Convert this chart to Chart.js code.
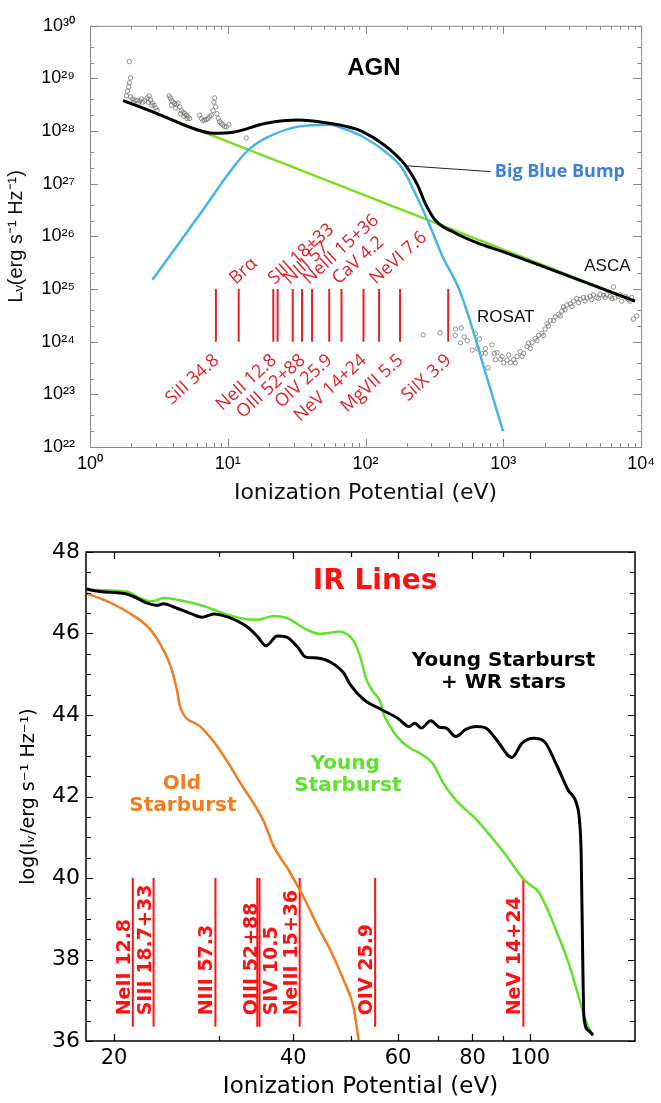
<!DOCTYPE html>
<html>
<head>
<meta charset="utf-8">
<script src="https://cdn.jsdelivr.net/npm/chart.js@4.4.1/dist/chart.umd.min.js"></script>
<style>
  html, body { margin: 0; padding: 0; background: #fff; }
  #page { position: relative; width: 661px; height: 1103px; }
  #agn { position: absolute; left: 0; top: 0; }
  #ir { position: absolute; left: 0; top: 515px; }
</style>
</head>
<body>
<div id="page">
  <canvas id="agn" width="661" height="515"></canvas>
  <canvas id="ir" width="661" height="588"></canvas>
</div>
<script>
// ---------- top panel: AGN spectrum ----------
const agnXTicks = [1, 10, 100, 1000, 10000];
const agnYTicks = [1e22, 1e23, 1e24, 1e25, 1e26, 1e27, 1e28, 1e29, 1e30];

// total model (black)
const totalE = [1.74, 3.0, 5.9, 7.8, 10.9, 19, 33, 54.5, 72, 95, 140, 195, 238, 273, 322, 450, 660, 977, 9030];
const totalL = [3.8e28, 2.2e28, 1.07e28, 9.1e27, 9.5e27, 1.41e28, 1.62e28, 1.41e28, 1.23e28, 9.8e27, 5.2e27, 2.24e27, 9.5e26, 4.1e26, 2.0e26, 1.15e26, 7.4e25, 5.2e25, 5.9e24];
// big blue bump (blue)
const bumpE = [2.84, 3.59, 6.25, 10.8, 14.0, 19.0, 33.1, 54.5, 72, 95, 140, 185, 231, 289, 360, 475, 594, 741, 995];
const bumpL = [1.5e25, 3.5e25, 2.6e26, 1.95e27, 4.3e27, 7.4e27, 1.23e28, 1.32e28, 1.07e28, 7.9e27, 4.0e27, 1.95e27, 6.3e26, 1.74e26, 4.3e25, 1.02e25, 1.86e24, 2.6e23, 2.0e22];
// power law (green)
const powerE = [1.74, 9030];
const powerL = [3.8e28, 5.9e24];

// observed points, optical/UV (log10 L)
const opticalE = [1.93, 1.97, 1.93, 1.91, 1.87, 1.84, 1.97, 2.04, 2.12, 2.20, 2.30, 2.41, 2.50, 2.60, 2.69, 2.75, 2.84, 2.92, 3.00, 3.07,
  2.06, 2.24, 2.65, 2.80, 2.36,
  3.75, 3.83, 3.92, 4.01, 4.12, 4.24, 4.36, 4.48, 4.61, 4.74, 4.87, 5.01, 5.15, 5.29,
  3.90, 4.19, 4.55, 4.80, 5.06,
  6.25, 6.43, 6.61, 6.80, 6.99, 7.18, 7.39, 7.59, 7.81, 7.94, 8.03, 8.16, 8.34, 8.53, 8.72, 8.97, 9.22, 9.48, 9.75, 10.19, 13.6];
const opticalLogL = [29.32, 29.01, 28.92, 28.84, 28.76, 28.67, 28.65, 28.61, 28.59, 28.58, 28.57, 28.55, 28.58, 28.63, 28.67, 28.59, 28.53, 28.49, 28.44, 28.39,
  28.55, 28.53, 28.55, 28.49, 28.61,
  28.67, 28.63, 28.58, 28.55, 28.52, 28.50, 28.53, 28.46, 28.39, 28.36, 28.33, 28.30, 28.27, 28.24,
  28.49, 28.44, 28.33, 28.28, 28.24,
  28.30, 28.24, 28.20, 28.21, 28.22, 28.24, 28.27, 28.30, 28.39, 28.55, 28.63, 28.46, 28.33, 28.24, 28.18, 28.15, 28.12, 28.09, 28.08, 28.13, 27.87];

// observed points, X-ray (ROSAT / ASCA)
const xrayE = [262, 347, 450, 495, 447, 520, 489, 546, 628, 671, 594, 650, 695, 741, 774, 828, 860, 900, 952, 1006,
  1094, 1125, 1189, 1257, 1329, 1405, 1485, 1527, 1614, 1706, 1803, 1906, 2015, 2072, 2191, 2381, 2517, 2661, 2736, 2892,
  3058, 3232, 3417, 3612, 3819, 4037, 4267, 4511, 4769, 5041, 5329, 5634, 5956, 6296, 6473, 6843, 7233, 7647, 8083, 8545,
  8786, 9290,
  1222, 1366, 1570, 1754, 1960, 2131, 2316, 2589, 2813, 3144, 3513, 3926, 4387, 4903, 5479, 6123, 7036, 7862, 8310,
  876, 979, 1064, 741];
const xrayLogL = [24.13, 24.17, 24.24, 24.26, 24.12, 24.09, 23.98, 24.02, 24.15, 24.05, 23.84, 23.87, 23.78, 23.87, 23.505, 23.94, 23.78, 23.79, 23.67, 23.60,
  23.75, 23.60, 23.66, 23.72, 23.81, 23.78, 23.91, 23.97, 23.98, 24.06, 24.12, 24.16, 24.24, 24.34, 24.40, 24.47, 24.52, 24.58, 24.66, 24.70,
  24.72, 24.77, 24.82, 24.80, 24.84, 24.83, 24.86, 24.89, 24.84, 24.90, 24.88, 24.89, 24.86, 25.04, 24.83, 24.86, 24.77, 24.86, 24.80, 24.84,
  24.43, 24.49,
  23.60, 23.72, 23.87, 24.02, 24.12, 24.30, 24.40, 24.49, 24.61, 24.67, 24.74, 24.77, 24.80, 24.82, 24.84, 24.82, 24.89, 24.83, 24.77,
  23.66, 23.72, 23.65, 23.78];

// emission line ionization potentials (eV) and their labels
const agnLineE = [8.2, 12.0, 21.4, 23.0, 29.6, 34.6, 40.9, 54.5, 66.9, 96.6, 125.4, 178, 398];
const agnLineLabels = ['SiII 34.8', 'Brα', 'NeII 12.8', 'SIII 18+33', 'NIII 57', 'OIII 52+88', 'NeIII 15+36',
  'OIV 25.9', 'CaV 4.2', 'NeV 14+24', 'NeVI 7.6', 'MgVII 5.5', 'SiIX 3.9'];
const agnLineSide = ['down', 'up', 'down', 'up', 'up', 'down', 'up', 'down', 'up', 'down', 'up', 'down', 'down'];
const agnLineRange = [1e24, 1e25];

// ---------- bottom panel: IR lines ----------
const irXTicks = [20, 40, 60, 80, 100];
const irXMinor = [30, 50, 70, 90];
const irYTicks = [36, 38, 40, 42, 44, 46, 48];

const wrE = [17.94, 18.95, 21.0, 22.1, 22.6, 23.6, 24.2, 25.5, 26.8, 28.1, 29.4, 31.1, 33.4, 34.8, 36.0, 37.6, 39.0, 40.6, 42.0, 43.9,
  46.3, 48.6, 49.9, 52.6, 56.3, 59.9, 62.6, 64.0, 65.6, 68.1, 70.4, 72.2, 75.0, 78.0, 81.0, 84.3, 87.8, 93.2, 96.9, 101.4,
  105.6, 111.1, 115.8, 119.6, 121.0, 121.8, 122.5, 123.1, 125.3, 127.5];
const wrL = [47.09, 47.03, 46.97, 46.83, 46.76, 46.69, 46.73, 46.62, 46.50, 46.40, 46.48, 46.40, 46.17, 45.93, 45.70, 45.94, 45.91, 45.68, 45.42, 45.40,
  45.29, 45.03, 44.74, 44.37, 44.13, 43.92, 43.72, 43.80, 43.68, 43.86, 43.70, 43.68, 43.47, 43.65, 43.72, 43.68, 43.39, 42.96, 43.31, 43.43,
  43.35, 42.73, 42.16, 41.83, 41.42, 40.6, 38.15, 36.59, 36.26, 36.14];

const youngE = [17.94, 19.4, 21.0, 22.1, 23.2, 24.2, 25.5, 27.1, 28.6, 31.1, 33.4, 34.8, 37.1, 39.0, 42.2, 44.3, 46.2, 47.6, 49.4, 50.5,
  51.8, 53.0, 54.3, 56.0, 56.8, 57.5, 59.5, 62.6, 65.5, 68.5, 71.5, 75.0, 81.0, 90.6, 97.6, 103.7, 111.1, 116.6, 122.5, 124.5, 127.5];
const youngL = [47.07, 47.06, 47.03, 46.87, 46.79, 46.87, 46.83, 46.75, 46.65, 46.46, 46.35, 46.34, 46.43, 46.38, 46.09, 45.99, 46.02, 46.05, 45.97, 45.82,
  45.44, 44.9, 44.6, 44.33, 44.0, 43.85, 43.5, 43.2, 43.05, 42.82, 42.32, 41.91, 41.45, 40.6, 39.96, 39.62, 38.64, 37.82, 36.75, 36.43, 36.14];

const oldE = [17.94, 19.4, 21.0, 22.9, 24.2, 24.9, 25.5, 25.8, 27.9, 30.1, 32.6, 35.6, 37.1, 39.3, 41.6, 44.3, 46.2, 48.6, 50.5, 51.5];
const oldL = [46.99, 46.80, 46.54, 46.13, 45.60, 45.19, 44.62, 44.21, 43.72, 43.14, 42.33, 41.42, 40.77, 40.19, 39.54, 38.72, 38.22, 37.49, 36.83, 36.02];

const irLineE = [21.5, 23.3, 29.6, 34.8, 35.1, 41.0, 54.9, 97.4];
const irLineLabels = ['NeII 12.8', 'SIII 18.7+33', 'NIII 57.3', 'SIV 10.5', 'OIII 52+88', 'NeIII 15+36', 'OIV 25.9', 'NeV 14+24'];
const irLineRange = [36.35, 40];
const irLabelBase = 36.63;

// ---------- helpers ----------
const SUP = '⁰¹²³⁴⁵⁶⁷⁸⁹';
const sup = n => String(n).split('').map(c => SUP[+c]).join('');
const pts = (xs, ys) => xs.map((v, i) => ({x: v, y: ys[i]}));
const ptsLog = (xs, ys) => xs.map((v, i) => ({x: v, y: Math.pow(10, ys[i])}));

function inwardTicks(ctx, a, xs, ys, xMaj, xMin, yMaj, yMin, majLen, minLen) {
  ctx.beginPath();
  const tx = (v, len) => {
    const p = Math.round(xs.getPixelForValue(v)) + 0.5;
    ctx.moveTo(p, a.bottom); ctx.lineTo(p, a.bottom - len);
    ctx.moveTo(p, a.top); ctx.lineTo(p, a.top + len);
  };
  const ty = (v, len) => {
    const p = Math.round(ys.getPixelForValue(v)) + 0.5;
    ctx.moveTo(a.left, p); ctx.lineTo(a.left + len, p);
    ctx.moveTo(a.right, p); ctx.lineTo(a.right - len, p);
  };
  xMaj.forEach(v => tx(v, majLen));
  xMin.forEach(v => tx(v, minLen));
  yMaj.forEach(v => ty(v, majLen));
  yMin.forEach(v => ty(v, minLen));
  ctx.stroke();
}

function label(ctx, text, x, y, font, color, align) {
  ctx.font = font;
  ctx.fillStyle = color;
  ctx.textAlign = align || 'center';
  ctx.textBaseline = 'middle';
  ctx.fillText(text, x, y);
}

// ---------- AGN chart ----------
const agnRed = '#e3202a';
const agnXMinor = [], agnYMinor = [];
for (let d = 0; d < 4; d++) for (let m = 2; m < 10; m++) agnXMinor.push(m * Math.pow(10, d));
for (let d = 22; d < 30; d++) [2, 4].forEach(m => agnYMinor.push(m * Math.pow(10, d)));

const agnDecor = {
  id: 'agnDecor',
  afterDatasetsDraw(chart) {
    const {ctx, chartArea: a, scales: {x, y}} = chart;
    ctx.save();
    ctx.strokeStyle = '#8a8a8a';
    ctx.lineWidth = 1;
    ctx.strokeRect(a.left + 0.5, a.top + 0.5, a.right - a.left, a.bottom - a.top);
    inwardTicks(ctx, a, x, y, agnXTicks, agnXMinor, agnYTicks, agnYMinor, 8, 4);

    // line labels
    ctx.font = '500 18px "Open Sans"';
    ctx.fillStyle = agnRed;
    ctx.textBaseline = 'alphabetic';
    agnLineLabels.forEach((t, i) => {
      const px = x.getPixelForValue(agnLineE[i]);
      ctx.save();
      if (agnLineSide[i] === 'up') {
        ctx.translate(px - 3, y.getPixelForValue(agnLineRange[1]) - 4);
        ctx.textAlign = 'left';
      } else {
        ctx.translate(px + 4, y.getPixelForValue(agnLineRange[0]) + 20);
        ctx.textAlign = 'right';
      }
      ctx.rotate(-42 * Math.PI / 180);
      ctx.fillText(t, 0, 0);
      ctx.restore();
    });

    // annotations
    label(ctx, 'AGN', x.getPixelForValue(115), y.getPixelForValue(1.55e29), 'bold 24px "Liberation Sans"', '#000');
    label(ctx, 'Big Blue Bump', x.getPixelForValue(867), y.getPixelForValue(1.7e27), '700 18px "Open Sans"', '#3d7fdc', 'left');
    label(ctx, 'ASCA', x.getPixelForValue(5690), y.getPixelForValue(2.75e25), '17px "Liberation Sans"', '#111');
    label(ctx, 'ROSAT', x.getPixelForValue(1040), y.getPixelForValue(2.9e24), '17px "Liberation Sans"', '#111');
    ctx.strokeStyle = '#222';
    ctx.lineWidth = 1;
    ctx.beginPath();
    ctx.moveTo(x.getPixelForValue(200), y.getPixelForValue(2.19e27));
    ctx.lineTo(x.getPixelForValue(811), y.getPixelForValue(1.7e27));
    ctx.stroke();
    ctx.restore();
  }
};

const agnLines = agnLineE.map(e => ({
  type: 'line', data: [{x: e, y: agnLineRange[0]}, {x: e, y: agnLineRange[1]}],
  borderColor: agnRed, borderWidth: 2, pointRadius: 0, order: 3
}));

new Chart(document.getElementById('agn'), {
  type: 'line',
  data: {
    datasets: [
      {data: pts(totalE, totalL), borderColor: '#000', borderWidth: 3, pointRadius: 0, cubicInterpolationMode: 'monotone', order: 0},
      {data: pts(bumpE, bumpL), borderColor: '#45b4e8', borderWidth: 2.5, pointRadius: 0, cubicInterpolationMode: 'monotone', order: 1},
      {data: pts(powerE, powerL), borderColor: '#7ddc1f', borderWidth: 2.5, pointRadius: 0, order: 2},
      ...agnLines,
      {data: ptsLog(opticalE, opticalLogL), showLine: false, pointRadius: 2.2, borderColor: '#777', borderWidth: 0.8, backgroundColor: 'rgba(0,0,0,0)', order: 4},
      {data: ptsLog(xrayE, xrayLogL), showLine: false, pointRadius: 2.2, borderColor: '#777', borderWidth: 0.8, backgroundColor: 'rgba(0,0,0,0)', order: 4}
    ]
  },
  options: {
    responsive: false,
    animation: false,
    layout: {padding: {top: 13, right: 18, bottom: 0, left: 0}},
    plugins: {legend: {display: false}, tooltip: {enabled: false}},
    scales: {
      x: {
        type: 'logarithmic', min: 1, max: 1e4,
        afterBuildTicks: s => { s.ticks = agnXTicks.map(v => ({value: v})); },
        afterFit: s => { s.height = 68; },
        grid: {display: false, drawTicks: false},
        border: {display: false},
        ticks: {
          autoSkip: false, maxRotation: 0, padding: 6, color: '#000',
          font: {family: 'Liberation Sans', size: 18},
          callback: v => '10' + sup(Math.round(Math.log10(v)))
        },
        title: {display: true, text: 'Ionization Potential (eV)', color: '#111',
          font: {family: 'DejaVu Sans', size: 22}, padding: {top: 0, bottom: 9}}
      },
      y: {
        type: 'logarithmic', min: 1e22, max: 1e30,
        afterBuildTicks: s => { s.ticks = agnYTicks.map(v => ({value: v})); },
        afterFit: s => { s.width = 90; },
        grid: {display: false, drawTicks: false},
        border: {display: false},
        ticks: {
          autoSkip: false, padding: 15, color: '#000',
          font: {family: 'Liberation Sans', size: 18},
          callback: v => '10' + sup(Math.round(Math.log10(v)))
        },
        title: {display: true, text: 'Lᵥ(erg s⁻¹ Hz⁻¹)', color: '#111',
          font: {family: 'Liberation Sans', size: 20}, padding: {top: 4, bottom: 0}}
      }
    }
  },
  plugins: [agnDecor]
});

// ---------- IR chart ----------
const irRed = '#ff1010';
const irYMinor = [];
for (let v = 36.5; v < 48; v += 0.5) if (v % 2 !== 0) irYMinor.push(v);
// horizontal nudges of the line labels (px), styling only
const irLabelDx = [-3, -3, -3, 20, -3, -3, -3, -3];

const irDecor = {
  id: 'irDecor',
  afterDatasetsDraw(chart) {
    const {ctx, chartArea: a, scales: {x, y}} = chart;
    ctx.save();
    ctx.strokeStyle = '#000';
    ctx.lineWidth = 1.5;
    ctx.strokeRect(a.left, a.top, a.right - a.left, a.bottom - a.top);
    ctx.lineWidth = 1.2;
    inwardTicks(ctx, a, x, y, irXTicks, irXMinor, irYTicks, irYMinor, 7, 5);

    ctx.font = 'bold 19px "DejaVu Sans"';
    ctx.fillStyle = irRed;
    ctx.textAlign = 'left';
    ctx.textBaseline = 'alphabetic';
    irLineLabels.forEach((t, i) => {
      ctx.save();
      ctx.translate(x.getPixelForValue(irLineE[i]) + irLabelDx[i], y.getPixelForValue(irLabelBase));
      ctx.rotate(-Math.PI / 2);
      ctx.fillText(t, 0, 0);
      ctx.restore();
    });

    label(ctx, 'IR Lines', x.getPixelForValue(54.9), y.getPixelForValue(47.27), 'bold 28px "DejaVu Sans"', irRed);
    label(ctx, 'Young Starburst', x.getPixelForValue(90.2), y.getPixelForValue(45.33), 'bold 20px "DejaVu Sans"', '#000');
    label(ctx, '+ WR stars', x.getPixelForValue(90.2), y.getPixelForValue(44.79), 'bold 20px "DejaVu Sans"', '#000');
    label(ctx, 'Young', x.getPixelForValue(48.9), y.getPixelForValue(42.80), 'bold 20px "DejaVu Sans"', '#5fe22c');
    label(ctx, 'Starburst', x.getPixelForValue(49.4), y.getPixelForValue(42.26), 'bold 20px "DejaVu Sans"', '#5fe22c');
    label(ctx, 'Old', x.getPixelForValue(26.0), y.getPixelForValue(42.31), 'bold 20px "DejaVu Sans"', '#f07d1e');
    label(ctx, 'Starburst', x.getPixelForValue(26.1), y.getPixelForValue(41.77), 'bold 20px "DejaVu Sans"', '#f07d1e');
    ctx.restore();
  }
};

const irLines = irLineE.map(e => ({
  type: 'line', data: [{x: e, y: irLineRange[0]}, {x: e, y: irLineRange[1]}],
  borderColor: irRed, borderWidth: 2, pointRadius: 0, order: 3
}));

new Chart(document.getElementById('ir'), {
  type: 'line',
  data: {
    datasets: [
      {data: pts(wrE, wrL), borderColor: '#000', borderWidth: 3, pointRadius: 0, cubicInterpolationMode: 'monotone', order: 0},
      {data: pts(youngE, youngL), borderColor: '#5fe22c', borderWidth: 2.5, pointRadius: 0, cubicInterpolationMode: 'monotone', order: 1},
      {data: pts(oldE, oldL), borderColor: '#f07d1e', borderWidth: 2.5, pointRadius: 0, cubicInterpolationMode: 'monotone', order: 2},
      ...irLines
    ]
  },
  options: {
    responsive: false,
    animation: false,
    layout: {padding: {top: 37, right: 26, bottom: 0, left: 0}},
    plugins: {legend: {display: false}, tooltip: {enabled: false}},
    scales: {
      x: {
        type: 'logarithmic', min: 17.94, max: 150,
        afterBuildTicks: s => { s.ticks = irXTicks.map(v => ({value: v})); },
        afterFit: s => { s.height = 62; },
        grid: {display: false, drawTicks: false},
        border: {display: false},
        ticks: {autoSkip: false, maxRotation: 0, padding: 5, color: '#000',
          font: {family: 'DejaVu Sans', size: 21}, callback: v => String(v)},
        title: {display: true, text: 'Ionization Potential (eV)', color: '#000',
          font: {family: 'DejaVu Sans', size: 23}, padding: {top: 0, bottom: 2}}
      },
      y: {
        type: 'linear', min: 36, max: 48,
        afterBuildTicks: s => { s.ticks = irYTicks.map(v => ({value: v})); },
        afterFit: s => { s.width = 86; },
        grid: {display: false, drawTicks: false},
        border: {display: false},
        ticks: {autoSkip: false, padding: 6, color: '#000',
          font: {family: 'DejaVu Sans', size: 22}, callback: v => String(v)},
        title: {display: true, text: 'log(Iᵥ/erg s⁻¹ Hz⁻¹)', color: '#000',
          font: {family: 'DejaVu Sans', size: 19}, padding: {top: 18, bottom: 0}}
      }
    }
  },
  plugins: [irDecor]
});
</script>
</body>
</html>
